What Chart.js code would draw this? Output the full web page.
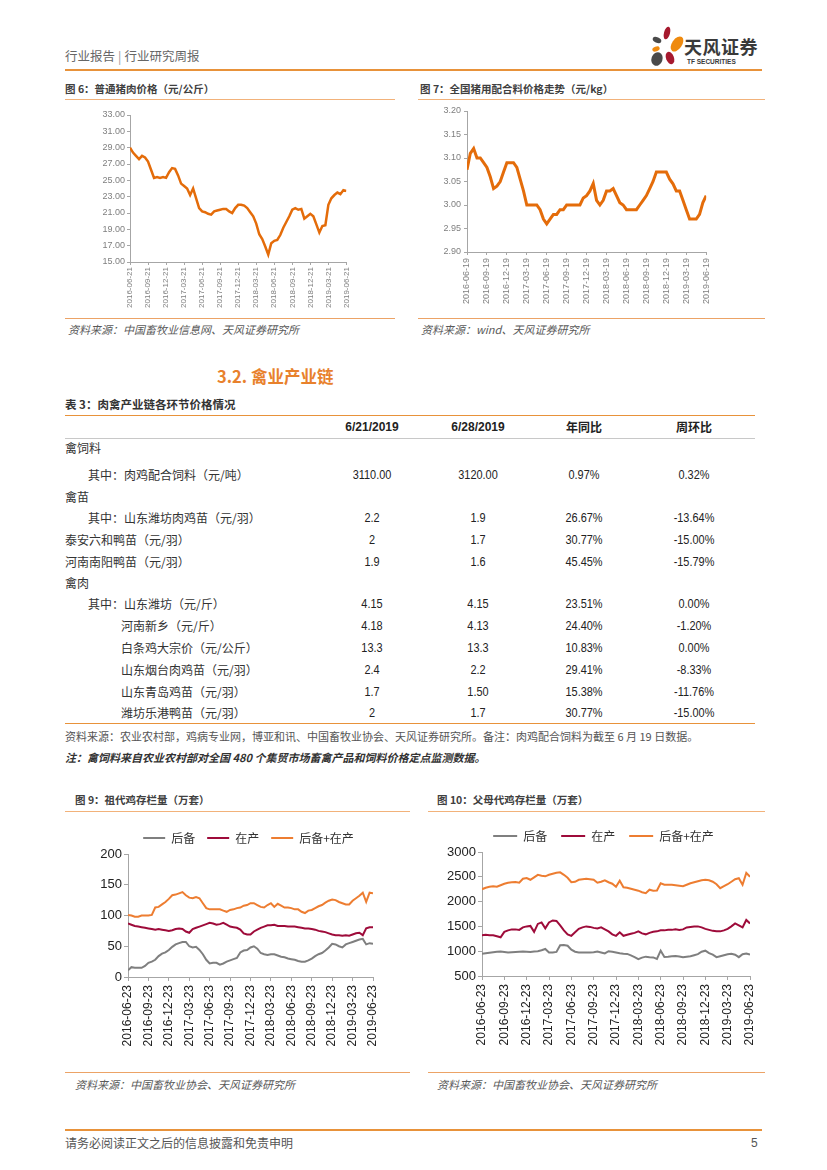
<!DOCTYPE html>
<html>
<head>
<meta charset="utf-8">
<script src="https://cdn.jsdelivr.net/npm/chart.js@4.4.1/dist/chart.umd.min.js"></script>
<style>
html,body{margin:0;padding:0;background:#fff;}
#page{position:relative;width:827px;height:1170px;overflow:hidden;font-family:"Noto Sans CJK SC","Noto Sans",sans-serif;color:#333;}
.t{position:absolute;white-space:nowrap;line-height:1;}
.hr{position:absolute;height:0;}
.box{position:absolute;}
.box canvas{display:block;}
.figt{font-size:10.5px;font-weight:bold;color:#404040;}
.src{font-size:11px;font-style:italic;color:#595959;}
</style>
</head>
<body>
<div id="page">
  <!-- header -->
  <div class="t" style="left:65px;top:50px;font-size:12.5px;color:#666;">行业报告<span style="color:#999;margin:0 3px;">|</span>行业研究周报</div>
  <svg class="box" style="left:640px;top:20px;" width="50" height="55" viewBox="640 20 50 55">
    <ellipse cx="667" cy="33" rx="3" ry="6.5" transform="rotate(15 667 33)" fill="#A6192E"/>
    <ellipse cx="677" cy="44" rx="5" ry="8.5" transform="rotate(35 677 44)" fill="#EF8A0E"/>
    <ellipse cx="657" cy="40" rx="4.5" ry="2.8" transform="rotate(25 657 40)" fill="#4A4A4A"/>
    <ellipse cx="656" cy="49" rx="3.8" ry="2.3" transform="rotate(-20 656 49)" fill="#EF8A0E"/>
    <ellipse cx="657" cy="59" rx="5.5" ry="7" transform="rotate(20 657 59)" fill="#4A4A4A"/>
    <ellipse cx="670" cy="58" rx="4" ry="6.5" transform="rotate(-20 670 58)" fill="#A6192E"/>
  </svg>
  <div class="t" style="left:684px;top:37px;font-size:18px;font-weight:bold;color:#3a3a3a;letter-spacing:0.5px;">天风证券</div>
  <div class="t" style="left:687px;top:59px;font-size:6.5px;font-weight:bold;color:#3a3a3a;font-family:'Liberation Sans',sans-serif;">TF SECURITIES</div>
  <div class="hr" style="left:65px;top:69px;width:697px;border-top:2px solid #E8923A;"></div>

  <!-- fig 6 / fig 7 titles -->
  <div class="t figt" style="left:65px;top:84px;">图 6：普通猪肉价格（元/公斤）</div>
  <div class="hr" style="left:65px;top:99px;width:330px;border-top:1px solid #F2B27A;"></div>
  <div class="t figt" style="left:420px;top:84px;">图 7：全国猪用配合料价格走势（元/kg）</div>
  <div class="hr" style="left:418px;top:99px;width:347px;border-top:1px solid #F2B27A;"></div>

  <div class="box" id="b6" style="left:88px;top:105px;width:270px;height:210px;"><canvas id="c6" width="270" height="210"></canvas></div>
  <div class="box" id="b7" style="left:425px;top:100px;width:295px;height:212px;"><canvas id="c7" width="295" height="212"></canvas></div>

  <div class="hr" style="left:65px;top:318px;width:330px;border-top:1px solid #ECA366;"></div>
  <div class="hr" style="left:418px;top:318px;width:347px;border-top:1px solid #ECA366;"></div>
  <div class="t src" style="left:68px;top:324px;">资料来源：中国畜牧业信息网、天风证券研究所</div>
  <div class="t src" style="left:421px;top:324px;">资料来源：wind、天风证券研究所</div>

  <!-- section -->
  <div class="t" style="left:217px;top:368px;font-size:16.5px;font-weight:bold;color:#E8812C;">3.2. 禽业产业链</div>
  <div class="t" style="left:65px;top:399px;font-size:11.5px;font-weight:bold;color:#333;">表 3：肉禽产业链各环节价格情况</div>
  <div id="table"></div>

  <!-- fig 9 / fig 10 -->
  <div class="t figt" style="left:75px;top:795px;">图 9：祖代鸡存栏量（万套）</div>
  <div class="hr" style="left:65px;top:811px;width:345px;border-top:1px solid #F2B27A;"></div>
  <div class="t figt" style="left:437px;top:795px;">图 10：父母代鸡存栏量（万套）</div>
  <div class="hr" style="left:428px;top:811px;width:337px;border-top:1px solid #F2B27A;"></div>

  <div class="box" id="b9" style="left:85px;top:815px;width:327px;height:236px;"><canvas id="c9" width="327" height="236"></canvas></div>
  <div class="box" id="b10" style="left:435px;top:813px;width:337px;height:237px;"><canvas id="c10" width="337" height="237"></canvas></div>

  <div class="hr" style="left:65px;top:1072px;width:345px;border-top:1px solid #ECA366;"></div>
  <div class="hr" style="left:428px;top:1072px;width:337px;border-top:1px solid #ECA366;"></div>
  <div class="t src" style="left:75px;top:1079px;">资料来源：中国畜牧业协会、天风证券研究所</div>
  <div class="t src" style="left:437px;top:1079px;">资料来源：中国畜牧业协会、天风证券研究所</div>

  <!-- footer -->
  <div class="hr" style="left:65px;top:1129px;width:697px;border-top:2px solid #E8923A;"></div>
  <div class="t" style="left:65px;top:1137px;font-size:12px;color:#555;">请务必阅读正文之后的信息披露和免责申明</div>
  <div class="t" style="left:751px;top:1137px;font-size:12px;color:#555;font-family:'Liberation Sans',sans-serif;">5</div>
</div>

<script>
// ---------------- DATA ----------------
const SAMPLES_PER_TICK = 6;

const fig6Ticks = ['2016-06-21','2016-09-21','2016-12-21','2017-03-21','2017-06-21','2017-09-21','2017-12-21','2018-03-21','2018-06-21','2018-09-21','2018-12-21','2019-03-21','2019-06-21'];
const fig6Pork = [29.0,28.4,28.0,27.6,28.0,27.8,27.3,26.3,25.3,25.4,
  25.3,25.4,25.3,26.0,26.5,26.4,25.6,24.6,24.3,24.0,
  23.2,24.0,22.8,21.6,21.2,21.1,20.9,20.8,21.2,21.3,
  21.4,21.5,21.5,21.2,21.0,21.6,22.0,22.0,21.9,21.6,
  21.1,20.6,19.7,18.4,17.8,16.9,15.9,17.3,17.6,17.7,
  18.3,19.2,19.9,20.6,21.4,21.6,21.4,21.5,20.3,20.6,
  20.9,20.6,19.6,18.6,19.4,19.5,22.0,22.8,23.2,23.5,
  23.3,23.8,23.7];

const fig7Ticks = ['2016-06-19','2016-09-19','2016-12-19','2017-03-19','2017-06-19','2017-09-19','2017-12-19','2018-03-19','2018-06-19','2018-09-19','2018-12-19','2019-03-19','2019-06-19'];
const fig7Feed = [3.075,3.11,3.12,3.10,3.10,3.09,3.08,3.06,3.035,3.04,
  3.05,3.07,3.09,3.09,3.09,3.08,3.055,3.03,3.00,3.00,
  3.00,3.00,2.99,2.97,2.96,2.97,2.98,2.98,2.99,2.99,
  3.00,3.00,3.00,3.00,3.00,3.015,3.02,3.03,3.046,3.01,
  3.00,3.01,3.03,3.03,3.035,3.02,3.005,3.00,2.99,2.99,
  2.99,2.99,3.00,3.01,3.02,3.035,3.05,3.07,3.07,3.07,
  3.07,3.055,3.045,3.03,3.03,3.01,2.99,2.97,2.97,2.97,
  2.98,3.005,3.02];

const fig9Ticks = ['2016-06-23','2016-09-23','2016-12-23','2017-03-23','2017-06-23','2017-09-23','2017-12-23','2018-03-23','2018-06-23','2018-09-23','2018-12-23','2019-03-23','2019-06-23'];
const fig9Names = ['后备','在产','后备+在产'];
const fig9Reserve = [11,16,15,15,15,18,23,25,28,34,
  38,40,44,49,53,55,57,57,50,48,
  49,44,37,28,22,23,23,20,22,25,
  27,29,31,40,43,44,48,50,46,39,
  37,36,37,37,35,33,32,30,29,28,
  26,25,25,27,30,34,37,39,43,48,
  54,53,50,48,53,55,57,59,61,62,
  53,55,54];
const fig9Laying = [87,85,83,82,81,80,79,78,77,78,
  77,76,75,76,78,79,78,74,72,78,
  80,82,84,86,88,87,85,86,88,85,
  82,81,80,77,71,69,69,74,77,80,
  82,84,84,85,83,83,83,82,82,82,
  81,80,79,79,78,77,75,74,73,71,
  69,68,68,67,68,67,69,71,72,68,
  79,81,81];
const fig9Total = [101,100,98,98,100,100,100,101,113,114,
  118,122,127,133,134,136,138,133,129,128,
  130,128,120,112,110,110,110,110,108,106,
  109,110,112,113,116,117,120,120,117,114,
  113,117,120,114,119,116,113,113,112,110,
  110,106,104,108,109,112,115,117,121,124,
  126,125,122,120,118,118,124,128,132,137,
  122,137,136];

const fig10Ticks = ['2016-06-23','2016-09-23','2016-12-23','2017-03-23','2017-06-23','2017-09-23','2017-12-23','2018-03-23','2018-06-23','2018-09-23','2018-12-23','2019-03-23','2019-06-23'];
const fig10Names = ['后备','在产','后备+在产'];
const fig10Reserve = [950,960,970,980,990,995,985,975,980,985,
  990,995,990,985,995,1000,1020,1045,975,975,
  985,1120,1125,1110,1030,990,975,975,975,975,
  980,995,975,955,1000,990,975,960,950,945,
  915,880,840,870,890,880,875,845,1010,885,
  890,900,905,895,880,890,900,920,940,990,
  1010,960,930,880,900,920,940,950,930,880,
  940,955,930];
const fig10Laying = [1320,1330,1320,1320,1300,1280,1390,1420,1440,1440,
  1430,1480,1500,1510,1390,1550,1580,1460,1580,1620,
  1610,1520,1420,1340,1310,1380,1450,1480,1500,1490,
  1470,1460,1480,1440,1400,1340,1310,1380,1310,1330,
  1350,1370,1400,1360,1340,1370,1390,1400,1420,1420,
  1430,1430,1440,1430,1440,1480,1490,1500,1500,1480,
  1450,1430,1410,1400,1400,1420,1450,1500,1560,1520,
  1480,1630,1560];
const fig10Total = [2250,2280,2300,2310,2300,2330,2360,2380,2390,2395,
  2380,2460,2475,2440,2490,2540,2520,2510,2540,2560,
  2580,2590,2540,2480,2390,2400,2440,2450,2460,2450,
  2440,2380,2400,2430,2390,2360,2300,2420,2290,2280,
  2260,2240,2220,2190,2170,2240,2220,2225,2370,2340,
  2340,2340,2330,2320,2310,2340,2370,2390,2410,2430,
  2440,2430,2400,2350,2270,2310,2350,2400,2450,2470,
  2340,2580,2500];

// table data
const tableColumns = ['6/21/2019','6/28/2019','年同比','周环比'];
const tableRowLabels = ['禽饲料','其中：肉鸡配合饲料（元/吨）','禽苗','其中：山东潍坊肉鸡苗（元/羽）','泰安六和鸭苗（元/羽）','河南南阳鸭苗（元/羽）','禽肉','其中：山东潍坊（元/斤）','河南新乡（元/斤）','白条鸡大宗价（元/公斤）','山东烟台肉鸡苗（元/羽）','山东青岛鸡苗（元/羽）','潍坊乐港鸭苗（元/羽）'];
const tableRowLevel = [0,1,0,1,0,0,0,1,2,2,2,2,2];
const colJun21 = ['','3110.00','','2.2','2','1.9','','4.15','4.18','13.3','2.4','1.7','2'];
const colJun28 = ['','3120.00','','1.9','1.7','1.6','','4.15','4.13','13.3','2.2','1.50','1.7'];
const colYoY = ['','0.97%','','26.67%','30.77%','45.45%','','23.51%','24.40%','10.83%','29.41%','15.38%','30.77%'];
const colWoW = ['','0.32%','','-13.64%','-15.00%','-15.79%','','0.00%','-1.20%','0.00%','-8.33%','-11.76%','-15.00%'];
const tableSource = '资料来源：农业农村部，鸡病专业网，博亚和讯、中国畜牧业协会、天风证券研究所。备注：肉鸡配合饲料为截至 6 月 19 日数据。';
const tableNote = '注：禽饲料来自农业农村部对全国 480 个集贸市场畜禽产品和饲料价格定点监测数据。';

// ---------------- TABLE ----------------
(function buildTable(){
  const L = {left:65, right:755, topLine:415, headY:427, headLine:438, rowY:[448,475,497,518,540,562,583,604,626,648,670,692,713], bottomLine:723, colX:[372,478,584,694], indent:[65,88,121], srcY:737, noteY:758};
  const host = document.getElementById('table');
  const add = (txt, style) => { const d = document.createElement('div'); d.className='t'; d.style.cssText = style; d.textContent = txt; host.appendChild(d); return d; };
  const line = (y, color, w) => { const d=document.createElement('div'); d.className='hr'; d.style.cssText=`left:${L.left}px;top:${y}px;width:${L.right-L.left}px;border-top:${w}px solid ${color};`; host.appendChild(d); };
  line(L.topLine, '#E8923A', 1.5);
  line(L.headLine, '#C8C8C8', 1);
  line(L.bottomLine, '#E8923A', 1.5);
  tableColumns.forEach((c,i)=>{
    const isNum = /\d/.test(c);
    add(c, `left:${L.colX[i]}px;top:${L.headY-6}px;transform:translateX(-50%);font-size:12px;font-weight:bold;color:#222;font-family:${isNum?"'Liberation Sans',":''}'Noto Sans CJK SC';`);
  });
  const cols = [colJun21, colJun28, colYoY, colWoW];
  tableRowLabels.forEach((lab, r)=>{
    const y = L.rowY[r];
    add(lab, `left:${L.indent[tableRowLevel[r]]}px;top:${y-6}px;font-size:12px;color:#333;`);
    cols.forEach((col, c)=>{
      if (!col[r]) return;
      add(col[r], `left:${L.colX[c]}px;top:${y-7}px;transform:translateX(-50%) scaleX(0.84);font-size:13px;color:#222;font-family:'Liberation Sans',sans-serif;`);
    });
  });
  add(tableSource, `left:${L.left}px;top:${L.srcY-6}px;font-size:11px;color:#555;`);
  add(tableNote, `left:${L.left}px;top:${L.noteY-6}px;font-size:11px;color:#333;font-style:italic;font-weight:bold;`);
})();

// ---------------- CHARTS ----------------
const pts = vals => vals.map((v,i)=>({x:i/SAMPLES_PER_TICK, y:v}));

function xScale(labels, o){
  return {
    type:'linear', min:0, max:labels.length-1,
    afterFit: s => { s.height = o.h; },
    border:{display:true, color:o.axis, width:1},
    grid:{display:true, drawOnChartArea:false, drawTicks:true, tickLength:o.tl, color:o.axis},
    ticks:{stepSize:1, autoSkip:false, maxRotation:90, minRotation:90, padding:o.pad, color:o.color,
      font:{family:"'Liberation Sans', sans-serif", size:o.fs},
      callback: v => (Number.isInteger(v) ? labels[v] : '')}
  };
}
function yScale(o){
  return {
    min:o.min, max:o.max,
    afterFit: s => { s.width = o.w; },
    border:{display:true, color:o.axis, width:1},
    grid:{display:true, drawOnChartArea:false, drawTicks:true, tickLength:o.tl, color:o.axis},
    ticks:{stepSize:o.step, padding:o.pad, color:o.color, font:{family:"'Liberation Sans', sans-serif", size:o.fs},
      callback: v => o.dec ? Number(v).toFixed(o.dec) : String(Math.round(v))}
  };
}
const common = {responsive:false, animation:false, events:[], devicePixelRatio:1};

new Chart(document.getElementById('c6'), {
  type:'line',
  data:{datasets:[{data:pts(fig6Pork), borderColor:'#E46C0A', borderWidth:2.5, pointRadius:0, tension:0, fill:false}]},
  options:{...common,
    layout:{padding:{top:10,right:7,left:0,bottom:0}},
    plugins:{legend:{display:false}, tooltip:{enabled:false}},
    scales:{
      x:xScale(fig6Ticks,{h:53, axis:'#A6A6A6', tl:3, pad:2, color:'#7F7F7F', fs:8}),
      y:yScale({min:15,max:33,step:2,dec:2,w:42,axis:'#A6A6A6',tl:3,pad:2,color:'#7F7F7F',fs:9})
    }}
});

new Chart(document.getElementById('c7'), {
  type:'line',
  data:{datasets:[{data:pts(fig7Feed), borderColor:'#E46C0A', borderWidth:3, pointRadius:0, tension:0, fill:false}]},
  options:{...common,
    layout:{padding:{top:11,right:8,left:0,bottom:0}},
    plugins:{legend:{display:false}, tooltip:{enabled:false}},
    scales:{
      x:xScale(fig7Ticks,{h:60, axis:'#A6A6A6', tl:3, pad:3, color:'#7F7F7F', fs:9}),
      y:yScale({min:2.9,max:3.2,step:0.05,dec:2,w:42,axis:'#A6A6A6',tl:3,pad:3,color:'#7F7F7F',fs:9})
    }}
});

function stockChart(id, ticks, names, series, o){
  const colors = ['#7F7F7F','#9E0B3A','#ED7D31'];
  new Chart(document.getElementById(id), {
    type:'line',
    data:{datasets: series.map((s,k)=>({label:names[k], data:pts(s), borderColor:colors[k], backgroundColor:colors[k], borderWidth:2, pointRadius:0, tension:0, fill:false}))},
    options:{...common,
      layout:{padding:{top:o.padTop,right:0,left:0,bottom:0}},
      plugins:{
        tooltip:{enabled:false},
        legend:{display:true, position:'top', labels:{usePointStyle:true, pointStyle:'line', pointStyleWidth:o.lw, padding:o.lp, color:'#333', font:{family:"'Noto Sans CJK SC', sans-serif", size:12}}}
      },
      scales:{
        x:xScale(ticks,{h:74, axis:'#A6A6A6', tl:4, pad:4, color:'#222', fs:12}),
        y:yScale({min:o.min,max:o.max,step:o.step,dec:0,w:o.yw,axis:'#A6A6A6',tl:4,pad:2,color:'#222',fs:13}),
        yR:{position:'right', display:true, min:0, max:1, afterFit:s=>{s.width=o.rw;}, grid:{display:false}, border:{display:false}, ticks:{display:false}}
      }}
  });
}
stockChart('c9', fig9Ticks, fig9Names, [fig9Reserve, fig9Laying, fig9Total], {padTop:5, lw:22, lp:12, min:0, max:200, step:50, yw:43, rw:39});
stockChart('c10', fig10Ticks, fig10Names, [fig10Reserve, fig10Laying, fig10Total], {padTop:3, lw:24, lp:14, min:500, max:3000, step:500, yw:47, rw:22});
</script>
</body>
</html>
